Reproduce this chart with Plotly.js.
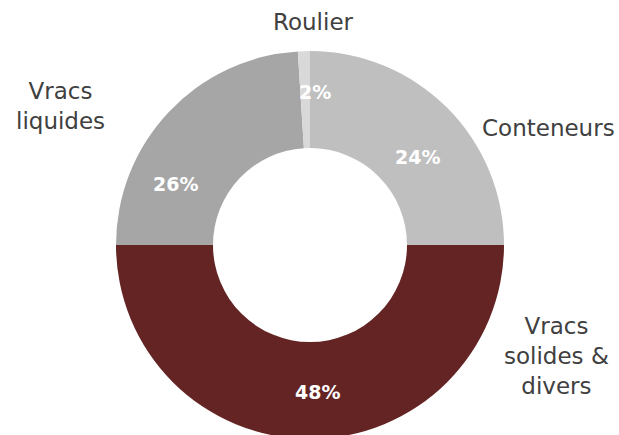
<!DOCTYPE html>
<html><head><meta charset="utf-8">
<script src="https://cdn.plot.ly/plotly-3.0.1.min.js"></script>
<style>html,body{margin:0;padding:0;overflow:hidden;background:#fff}#chart{width:619px;height:440px}</style>
</head><body><div id="chart"></div>
<script>
// Data
const categories = ['Conteneurs', 'Vracs solides & divers', 'Vracs liquides', 'Roulier'];
const categoryLabels = ['Conteneurs', 'Vracs<br>solides &<br>divers', 'Vracs<br>liquides', 'Roulier'];
const sliceShares = [25, 50, 24, 1];          // slice sizes as drawn
const pctLabels = ['24%', '48%', '26%', '2%']; // percentages as printed

// Styling / layout
const W = 619, H = 440;
const colors = ['#BFBFBF', '#632423', '#A6A6A6', '#D9D9D9'];
const namePos = [[548, 128], [556, 356], [60, 106], [313, 22]];
const pctPos = [[417, 157], [317, 392], [175, 184], [315, 92]];
const cx = 310, cy = 245, R = 194;

const px = x => x / W;
const py = y => (H - y) / H;

const annotations = [];
categories.forEach((c, i) => {
  annotations.push({
    text: categoryLabels[i], xref: 'paper', yref: 'paper',
    x: px(namePos[i][0]), y: py(namePos[i][1]), xanchor: 'center', yanchor: 'middle',
    showarrow: false, align: 'center',
    font: {family: 'DejaVu Sans, sans-serif', size: 23, color: '#404040'}
  });
  annotations.push({
    text: '<b>' + pctLabels[i] + '</b>', xref: 'paper', yref: 'paper',
    x: px(pctPos[i][0]), y: py(pctPos[i][1]), xanchor: 'center', yanchor: 'middle',
    showarrow: false,
    font: {family: 'DejaVu Sans, sans-serif', size: 19, color: '#FFFFFF'}
  });
});

const trace = {
  type: 'pie',
  labels: categories,
  values: sliceShares,
  sort: false,
  direction: 'clockwise',
  rotation: 0,
  hole: 0.5,
  textinfo: 'none',
  marker: {colors: colors, line: {width: 0}},
  domain: {x: [px(cx - R), px(cx + R)], y: [py(cy + R), py(cy - R)]},
  showlegend: false
};

Plotly.newPlot('chart', [trace], {
  width: W, height: H,
  margin: {l: 0, r: 0, t: 0, b: 0},
  paper_bgcolor: '#FFFFFF',
  showlegend: false,
  annotations: annotations
}, {displayModeBar: false, staticPlot: true});
</script>
</body></html>
